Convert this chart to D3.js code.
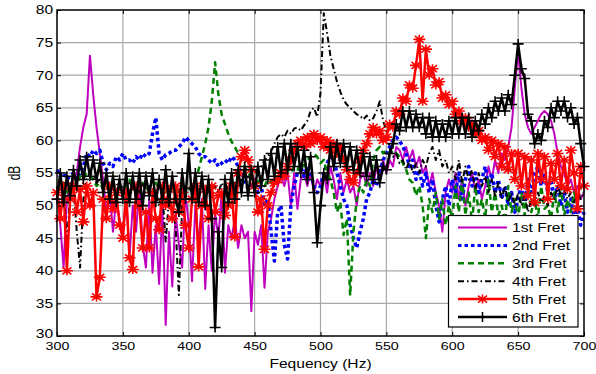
<!DOCTYPE html>
<html><head><meta charset="utf-8">
<script src="https://cdn.jsdelivr.net/npm/d3@7"></script>
<style>body{margin:0;background:#fff}svg{display:block}text{font-family:"Liberation Sans",Arial,sans-serif;font-size:12px;fill:#000}</style>
</head><body><svg id="c" width="596" height="374"></svg>
<script>
// frequency grid (Hz), 2.5 Hz steps
const freq = d3.range(300, 700.01, 2.5);

const fret1 = [
53,47,40.5,51,53,54,55,59,62,64,73,67,62,58,54,49,52,46,51,48,
45,52,42,50,46,53,44,40.5,51,39.7,47,38,50,31.7,46,37.6,49,44,40.5,52,
47,38.4,50,44,51,37.2,47,40,49,45,52,39.7,47,45,48,43.5,47,45,46,33.8,
46,44,47,37.4,46,48,51,53,54.5,53,55,50,55,49.5,54,55,53,55,52,54,
53,55,52,56,54,51,55,52,54,52,53,50,54,55,53,55,53,56,54,57,
55,57,56,59,58.5,57,59,57,58.5,56,57.5,55,56,53,55,52,50,46,52,54,
52,55,51,54,50,53,55,52,54,51,53,56,54,57,55,58,57,59,62,68,
74,68,64,62,61,62,63,64,64.5,64,63,61,58,56,55,53,54,52,53,51,
52];
const fret2 = [
55.5,54.5,55,54,54.5,55,54,55,56,58,57.5,58.5,58,58.5,56.5,55.5,56.5,56,57.5,57,
58,57,57,56.5,57.5,57,58,57.5,58,61,63.5,58,57,57.8,58,58.5,58.5,59,59.5,60.5,
60,59.5,59,58,57.5,57.5,57,56.5,57,56,56.5,57,56.5,57.5,57,56,55,54,52.5,53,
54,52,53,50,51,46,41.5,49,50,44,41.8,50,53,55,56,54.5,56,55,53,52,
53,55,56.5,57.5,57,55,53,51,50,47,45,43.5,46,48,51,52,54,53,55,57,
58,59,60,60.5,60,59,58,56,57,54,55.5,53,55,52,54,50,47.5,51,53,50,
54,52,55,51,54,56,53,55,52,54,56,53,55,52,54,51,53,50,52,49,
51,53,50,54,52,55,56,53,55,52,54,51,53,50,52,49,51,48,50,47,
49];
const fret3 = [
53,52.5,53.5,52,53,54,53,54.5,54,55,54.5,54,53,53.5,52.5,53,52,53,52.5,53,
52.5,53,54,52.5,53,52,53.5,52.5,53,52,53.5,52.5,53,52,53,52.5,53,52,53,52.5,
52.5,53,54,55.5,57.5,59.5,62,66,72,67,64,62.5,61,59.8,59,58,57,56,55,54.5,
54,53.5,54.5,53,54,53.5,54.5,54,55,54.5,55.5,55,56,55.5,56.5,56,57,57.5,58,57.5,
56.5,57,55,54,52,49,50.5,45.5,48,36.2,46,51,53,52,54,53,57,58.5,59,58,
58.5,58,58.5,58,57.5,56.5,55.5,54,53.5,51.5,53,50,45,51,49,52,48,51,47,50,
48,53,49,54,48.5,52,47.5,53,49,51,48,54,49,52,48.5,50,47.5,53,49,51,
48,52,48.5,54,49,51,48,53,49.5,50,48,52,49,53,48.5,51,49,52,50,53,
52];
const fret4 = [
53,48,53.5,44,52,53,46,40.5,51,54,55,54.5,53.5,54,53,53.5,52.5,53,53.5,52.5,
53,52,53.5,52.5,53,52,53.5,52,53,51.5,52.5,50,52,44.5,51,49,47,36.3,50,52,
53,52,53.5,52.5,53,52,53.5,52.5,53,52,53.5,52.5,53,52.5,53.5,53,54,53.5,54.5,54,
55,55.5,56,57,57.5,58.3,59.5,60.5,61,60.5,61.5,61,61.8,62,61.5,62.3,63,64.5,65,63.6,
67.3,79.5,76.5,73,71,69,67.5,66.2,65.5,65,64.5,64,63.8,63.2,63.8,63,63.4,64.5,66,63,
61.5,59,57.5,58,56.5,57,55.5,57,55,56.5,55,57,56,58,59,57,58.5,56,57,55,
56,54,57,53.5,56,54,55.5,52.5,55,53,54.5,52,54,51.5,53.5,51,53,50.5,52,50,
52,50,51.5,49,51,50,52,50.5,51.5,50,52,51,53,51.5,52.5,51,52,50.5,52,51,
52];
const fret5 = [
52,48,53,40,51,53,49,52.5,47.5,53,50,52,36,39,51,48,53,49.5,52,47,
45,52,42,40.2,53,50,43.5,49,43.5,52,48,46.3,53,50,52.5,48,53,49,52,47,
43.5,51,53,40.6,50,52.5,48,53,49,51.5,52,48.5,50,53,45.2,55,57.5,58.5,57,55.5,
53,49,51,43.3,50,52,53.5,54,55,54.5,56,57,58.5,59.5,60,59,60.5,59.5,61,60,
60.5,59,60,58.5,59.5,58,59,57,55.5,54,53.5,55,57,58.5,59.5,61,62,61,61.5,60,
60.5,62.5,62,64.5,64,66.5,66,68.5,68,71.5,75.5,66,74,70,71,68.5,69,66.5,67,65.5,
66,64,64.5,63,63.5,62,62.5,61,61.5,60,60.5,58.5,60,57.5,59.5,56,59,55.5,58,54,
58,53,57.5,51.5,57,50.5,58,54,57.5,51,56.5,54,58,53,57,52.5,58.5,55,49.5,56,
53];
const fret6 = [
51,55,50.5,54.5,51.5,55.5,53,57,54,57.5,54.5,57,54,56.5,52,55,51,54.5,50.5,54,
51,55,50.5,54.5,51,55,50,54.5,51.5,55,50.5,54,51,55.5,50.5,54.5,51,49,55,51,
58,51,55,50.5,54.5,50,54,48,31.3,46,40.5,54,50.5,55,51,55.5,52,56,51.5,55.5,
52,56,53,57,54,58,54.5,59,55,59.5,55.5,59.5,56,59,55,58.5,54,57.5,52,44.3,
50,55,54,59,56,59.5,56.5,59.5,56,59,55.5,58.5,55,58,54.5,57.5,54,57,53.5,56,
55.5,58,59.5,62.5,61.5,64.5,62,64.5,62,64,62,63.5,61,63.5,60.5,63,60.5,62.5,60.5,63,
61,63.5,61,63.5,61,63.5,60.5,63,61.5,64,62.5,65,63.5,66,64.5,66.5,64.5,67,65.5,70,
74.8,71,69.5,64,63,59.5,61,60,63,62,65,63.5,66,64.5,66,63.5,65,62.5,63.5,59.5,
56];

const seriesNames = ["1st Fret","2nd Fret","3rd Fret","4th Fret","5th Fret","6th Fret"];
const xTicks = [300,350,400,450,500,550,600,650,700];
const yTicks = [30,35,40,45,50,55,60,65,70,75,80];

const styles = [
  {color:"#bf00bf", w:2, dash:null, marker:null},
  {color:"#0000ff", w:3.5, dash:"3.5,3", marker:null},
  {color:"#008000", w:2.5, dash:"6,4", marker:null},
  {color:"#000000", w:2, dash:"6,3,1.5,3", marker:null},
  {color:"#ff0000", w:2.5, dash:null, marker:"star"},
  {color:"#000000", w:2.5, dash:null, marker:"plus"}
];
const data = [fret1,fret2,fret3,fret4,fret5,fret6];

const svg = d3.select("#c");
const L=57, R=584, T=10, B=336;
const x = d3.scaleLinear().domain([300,700]).range([L,R]);
const y = d3.scaleLinear().domain([30,80]).range([B,T]);
const SX = 1.3;

// grid
const grid = svg.append("g");
grid.selectAll("line.v").data(xTicks.slice(1,-1)).join("line")
  .attr("x1",d=>x(d)).attr("x2",d=>x(d)).attr("y1",T).attr("y2",B)
  .attr("stroke","#a8a8a8").attr("stroke-width",1.2);
grid.selectAll("line.h").data(yTicks.slice(1,-1)).join("line")
  .attr("x1",L).attr("x2",R).attr("y1",d=>y(d)).attr("y2",d=>y(d))
  .attr("stroke","#a8a8a8").attr("stroke-width",1.2);

// series
const markerPaths = {
  star:"M-6,0H6M0,-4.5V4.5M-4.5,-3.5L4.5,3.5M-4.5,3.5L4.5,-3.5",
  plus:"M-5.5,0H5.5M0,-5V5"
};
const line = d3.line().x((d,i)=>x(freq[i])).y(d=>y(d));
data.forEach((vals,k)=>{
  const st = styles[k];
  const g = svg.append("g");
  g.append("path").attr("d",line(vals)).attr("fill","none")
    .attr("stroke",st.color).attr("stroke-width",st.w)
    .attr("stroke-linejoin","round")
    .attr("stroke-dasharray",st.dash);
  if(st.marker){
    g.selectAll("path.m").data(vals).join("path")
      .attr("d",markerPaths[st.marker])
      .attr("transform",(d,i)=>`translate(${x(freq[i])},${y(d)})`)
      .attr("fill","none").attr("stroke",st.color).attr("stroke-width",1.6);
  }
});

// axes
const bottom = svg.append("g").attr("transform",`translate(0,${B})`)
  .call(d3.axisBottom(x).tickValues(xTicks).tickSizeInner(-4).tickSizeOuter(0).tickPadding(6));
bottom.selectAll("text").attr("transform",`scale(1.24,1)`).style("font-size","11.5px");
const left = svg.append("g").attr("transform",`translate(${L},0)`)
  .call(d3.axisLeft(y).tickValues(yTicks).tickSizeInner(-4).tickSizeOuter(0).tickPadding(3));
left.selectAll("text").attr("transform",`scale(${SX},1)`).style("font-size","12px")
  .attr("dy",d=>d===30?"0.15em":"0.32em");
svg.append("g").attr("transform",`translate(0,${T})`)
  .call(d3.axisTop(x).tickValues(xTicks).tickSizeInner(-4).tickSizeOuter(0).tickFormat(""));
svg.append("g").attr("transform",`translate(${R},0)`)
  .call(d3.axisRight(y).tickValues(yTicks).tickSizeInner(-4).tickSizeOuter(0).tickFormat(""));
svg.selectAll(".domain").remove();
svg.selectAll(".tick line").attr("stroke","#000").attr("stroke-width",1);
svg.append("rect").attr("x",L).attr("y",T).attr("width",R-L).attr("height",B-T)
  .attr("fill","none").attr("stroke","#000").attr("stroke-width",1.5);

// axis titles
svg.append("text").attr("transform",`translate(${(L+R)/2},368) scale(${SX},1)`)
  .attr("text-anchor","middle").text("Fequency (Hz)");
svg.append("text").attr("transform",`translate(20,${(T+B)/2}) scale(${SX},1) rotate(-90)`)
  .attr("text-anchor","middle").text("dB");

// legend
const lg = svg.append("g");
lg.append("rect").attr("x",448.5).attr("y",215.5).attr("width",129.5).attr("height",111.5)
  .attr("fill","#fff").attr("stroke","#000").attr("stroke-width",1.2);
seriesNames.forEach((name,k)=>{
  const st = styles[k];
  const yy = 227.5 + k*17.9;
  lg.append("line").attr("x1",458).attr("x2",507).attr("y1",yy).attr("y2",yy)
    .attr("stroke",st.color).attr("stroke-width",Math.min(st.w,3)).attr("stroke-dasharray",st.dash);
  if(st.marker){
    lg.append("path").attr("d",markerPaths[st.marker])
      .attr("transform",`translate(482.5,${yy})`)
      .attr("fill","none").attr("stroke",st.color).attr("stroke-width",1.6);
  }
  lg.append("text").attr("transform",`translate(512,${yy+4.5}) scale(${SX},1)`).text(name);
});
</script></body></html>
